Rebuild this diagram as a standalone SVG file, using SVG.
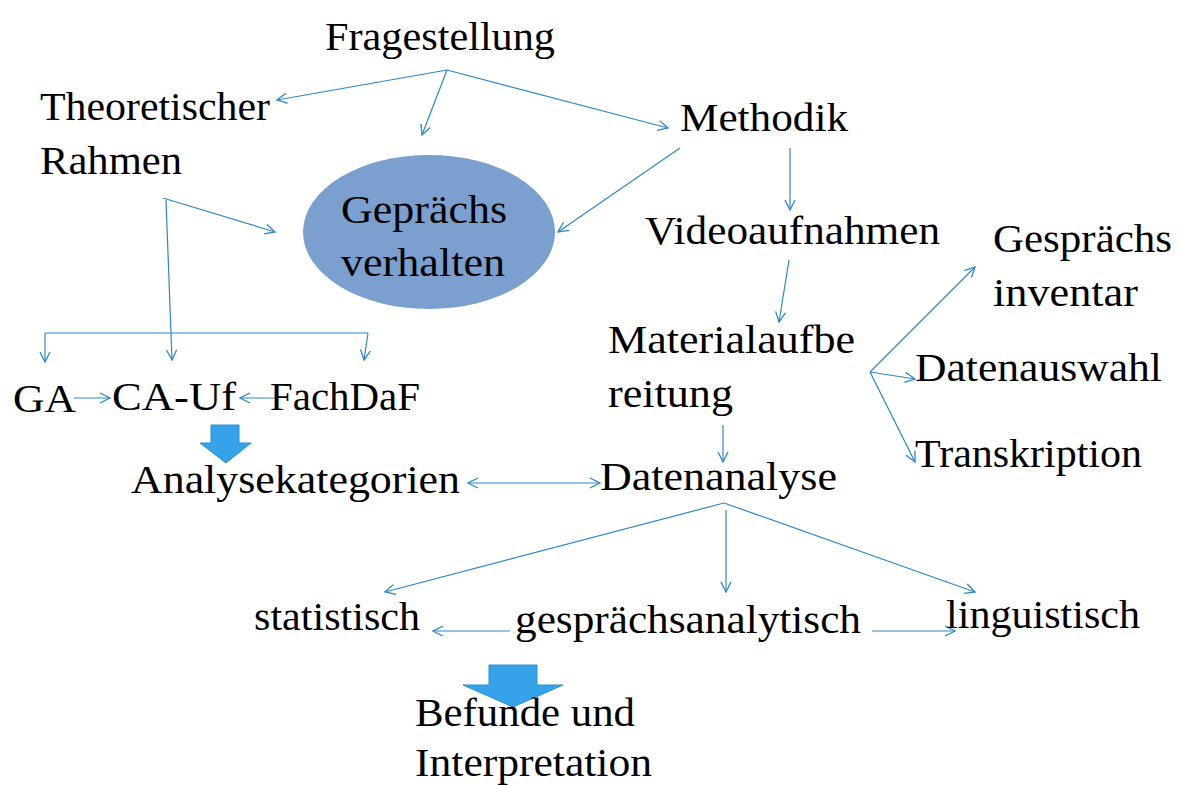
<svg xmlns="http://www.w3.org/2000/svg" width="1180" height="785" viewBox="0 0 1180 785">
<defs>
<style>
.t{font-family:"Liberation Serif","DejaVu Serif",serif;font-size:40px;fill:#000}
.c{stroke:#2f87c9;stroke-width:1.2;fill:none;marker-end:url(#ah)}
.n{stroke:#2f87c9;stroke-width:1.2;fill:none}
.blk{fill:#35a2e9;stroke:#2b8fd3;stroke-width:1}
</style>
<marker id="ah" viewBox="0 0 12 12" refX="11" refY="6" markerWidth="12" markerHeight="12" markerUnits="userSpaceOnUse" orient="auto-start-reverse">
<path d="M1,1 L11,6 L1,11" fill="none" stroke="#2f87c9" stroke-width="1.3"/>
</marker>
</defs>
<rect width="1180" height="785" fill="#fff"/>

<g id="connectors">
<path class="c" d="M447,70 L277,100"/>
<path class="c" d="M447,70 L422,135"/>
<path class="c" d="M447,70 L668,128"/>
<path class="c" d="M680,148 L558,232"/>
<path class="c" d="M790,148 L790,210"/>
<path class="c" d="M789,260 L779,322"/>
<path class="c" d="M163,198 L275,232"/>
<path class="c" d="M166,200 L172,360"/>
<path class="n" d="M45,333 L368,333"/>
<path class="c" d="M45,333 L45,362"/>
<path class="c" d="M368,333 L364,360"/>
<path class="c" d="M74,398 L110,398"/>
<path class="c" d="M277,398 L240,398"/>
<path class="c" d="M534,483 L468,483"/>
<path class="c" d="M534,483 L600,483"/>
<path class="c" d="M723,425 L723,462"/>
<path class="c" d="M870,372 L975,267"/>
<path class="c" d="M870,372 L915,379"/>
<path class="c" d="M870,372 L915,462"/>
<path class="c" d="M724,503 L385,592"/>
<path class="c" d="M724,503 L975,592"/>
<path class="c" d="M726,510 L726,592"/>
<path class="c" d="M510,631 L433,631"/>
<path class="c" d="M872,631 L955,631"/>
</g>

<g id="block-arrow-1"><path class="blk" d="M211,425 L239,425 L239,443 L251,443 L226,463 L200,443 L211,443 Z"/></g>
<g id="block-arrow-2"><path class="blk" d="M489,665 L537,665 L537,685 L563,685 L513,707 L463,685 L489,685 Z"/></g>

<g id="fragestellung"><text class="t" x="325" y="50" textLength="230" lengthAdjust="spacingAndGlyphs">Fragestellung</text></g>
<g id="theoretischer-rahmen">
<text class="t" x="40" y="120" textLength="230" lengthAdjust="spacingAndGlyphs">Theoretischer</text>
<text class="t" x="40" y="174" textLength="142" lengthAdjust="spacingAndGlyphs">Rahmen</text>
</g>
<g id="gespraechsverhalten">
<ellipse cx="429" cy="232" rx="126" ry="77" fill="#7b9fcf"/>
<text class="t" x="341" y="223" textLength="166" lengthAdjust="spacingAndGlyphs">Geprächs</text>
<text class="t" x="341" y="276" textLength="164" lengthAdjust="spacingAndGlyphs">verhalten</text>
</g>
<g id="methodik"><text class="t" x="680" y="131" textLength="168" lengthAdjust="spacingAndGlyphs">Methodik</text></g>
<g id="videoaufnahmen"><text class="t" x="645" y="244" textLength="295" lengthAdjust="spacingAndGlyphs">Videoaufnahmen</text></g>
<g id="gespraechsinventar">
<text class="t" x="993" y="252" textLength="179" lengthAdjust="spacingAndGlyphs">Gesprächs</text>
<text class="t" x="993" y="306" textLength="145" lengthAdjust="spacingAndGlyphs">inventar</text>
</g>
<g id="materialaufbereitung">
<text class="t" x="608" y="353" textLength="247" lengthAdjust="spacingAndGlyphs">Materialaufbe</text>
<text class="t" x="608" y="407" textLength="125" lengthAdjust="spacingAndGlyphs">reitung</text>
</g>
<g id="datenauswahl"><text class="t" x="915" y="381" textLength="247" lengthAdjust="spacingAndGlyphs">Datenauswahl</text></g>
<g id="transkription"><text class="t" x="915" y="467" textLength="227" lengthAdjust="spacingAndGlyphs">Transkription</text></g>
<g id="ga"><text class="t" x="13" y="412" textLength="63" lengthAdjust="spacingAndGlyphs">GA</text></g>
<g id="ca-uf"><text class="t" x="112" y="410" textLength="124" lengthAdjust="spacingAndGlyphs">CA-Uf</text></g>
<g id="fachdaf"><text class="t" x="270" y="410" textLength="150" lengthAdjust="spacingAndGlyphs">FachDaF</text></g>
<g id="analysekategorien"><text class="t" x="131" y="493" textLength="329" lengthAdjust="spacingAndGlyphs">Analysekategorien</text></g>
<g id="datenanalyse"><text class="t" x="600" y="490" textLength="237" lengthAdjust="spacingAndGlyphs">Datenanalyse</text></g>
<g id="statistisch"><text class="t" x="254" y="630" font-size="36" textLength="166" lengthAdjust="spacingAndGlyphs">statistisch</text></g>
<g id="gespraechsanalytisch"><text class="t" x="515" y="633" font-size="36" textLength="346" lengthAdjust="spacingAndGlyphs">gesprächsanalytisch</text></g>
<g id="linguistisch"><text class="t" x="946" y="628" font-size="36" textLength="194" lengthAdjust="spacingAndGlyphs">linguistisch</text></g>
<g id="befunde">
<text class="t" x="415" y="726" font-size="36" textLength="220" lengthAdjust="spacingAndGlyphs">Befunde und</text>
<text class="t" x="415" y="776" font-size="36" textLength="237" lengthAdjust="spacingAndGlyphs">Interpretation</text>
</g>
</svg>
